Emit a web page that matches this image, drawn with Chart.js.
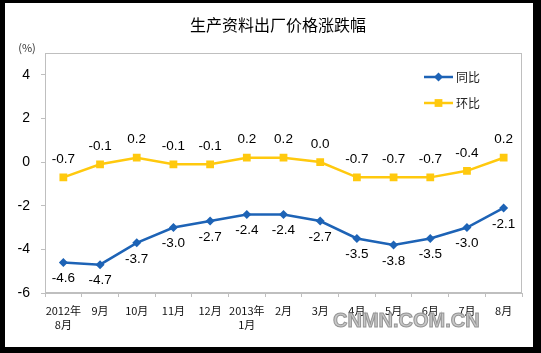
<!DOCTYPE html>
<html><head><meta charset="utf-8">
<script src="https://cdn.jsdelivr.net/npm/chart.js@4"></script>
<style>html,body{margin:0;padding:0;background:#000}canvas{display:block}</style>
</head><body>
<canvas id="c" width="541" height="353"></canvas>
<script>
const categories = [["2012年","8月"],"9月","10月","11月","12月",["2013年","1月"],"2月","3月","4月","5月","6月","7月","8月"];
const yoyValues = [-4.6,-4.7,-3.7,-3.0,-2.7,-2.4,-2.4,-2.7,-3.5,-3.8,-3.5,-3.0,-2.1];
const momValues = [-0.7,-0.1,0.2,-0.1,-0.1,0.2,0.2,0.0,-0.7,-0.7,-0.7,-0.4,0.2];
const yTicks = [-6,-4,-2,0,2,4];
const seriesNames = ["同比","环比"];
const chartTitle = "生产资料出厂价格涨跌幅";
const unitLabel = "(%)";
const watermark = "CNMN.COM.CN";

const BLUE = '#1D63B6', YELLOW = '#FFC90E', GRID = '#BFBFBF';
const NUM_FONT = '"Liberation Sans", Arial, sans-serif';
const CJK_FONT = '"Noto Sans CJK SC", sans-serif';

const bgPlugin = {
  id: 'bg',
  beforeDraw(chart) {
    const ctx = chart.ctx;
    ctx.save();
    ctx.fillStyle = '#000';
    ctx.fillRect(0, 0, chart.width, chart.height);
    ctx.fillStyle = '#fff';
    ctx.fillRect(5, 3, 528, 344);
    ctx.restore();
  },
  beforeDatasetsDraw(chart) {
    const a = chart.chartArea, ctx = chart.ctx;
    ctx.save();
    ctx.strokeStyle = GRID;
    ctx.lineWidth = 1;
    ctx.strokeRect(Math.round(a.left) + 0.5, Math.round(a.top) + 0.5, Math.round(a.right - a.left) - 1, Math.round(a.bottom - a.top) - 1);
    ctx.restore();
  }
};

function drawMarker(ctx, style, x, y, r, color) {
  ctx.fillStyle = color;
  ctx.beginPath();
  if (style === 'rectRot') {
    ctx.moveTo(x, y - r); ctx.lineTo(x + r, y); ctx.lineTo(x, y + r); ctx.lineTo(x - r, y);
    ctx.closePath();
  } else {
    const s = r * Math.SQRT1_2;
    ctx.rect(x - s, y - s, 2 * s, 2 * s);
  }
  ctx.fill();
}

const decorPlugin = {
  id: 'decor',
  afterDatasetsDraw(chart) {
    const ctx = chart.ctx;
    ctx.save();
    ctx.font = '13.5px ' + NUM_FONT;
    ctx.fillStyle = '#000';
    ctx.textAlign = 'center';
    ctx.textBaseline = 'middle';
    chart.data.datasets.forEach((ds, di) => {
      const meta = chart.getDatasetMeta(di);
      const off = di === 0 ? 16 : -18;
      meta.data.forEach((pt, i) => {
        ctx.fillText(ds.data[i].toFixed(1), pt.x, pt.y + off);
      });
    });
    ctx.restore();
  },
  afterDraw(chart) {
    const ctx = chart.ctx, a = chart.chartArea;
    ctx.save();
    // title
    ctx.fillStyle = '#000';
    ctx.font = '16px ' + CJK_FONT;
    ctx.textAlign = 'center';
    ctx.textBaseline = 'middle';
    ctx.fillText(chartTitle, 278, 25);
    // unit
    ctx.font = '11px ' + CJK_FONT;
    ctx.fillStyle = '#333';
    ctx.fillText(unitLabel, 27, 48);
    // legend
    const lx = a.right - 98;
    chart.data.datasets.forEach((ds, di) => {
      const y = a.top + 24 + di * 26;
      ctx.strokeStyle = ds.borderColor;
      ctx.lineWidth = 2.5;
      ctx.beginPath(); ctx.moveTo(lx, y); ctx.lineTo(lx + 29, y); ctx.stroke();
      drawMarker(ctx, ds.pointStyle, lx + 14.5, y, ds.pointRadius, ds.pointBackgroundColor);
      ctx.fillStyle = '#222';
      ctx.font = '12px ' + CJK_FONT;
      ctx.textAlign = 'left';
      ctx.fillText(ds.label, lx + 32, y);
    });
    // watermark
    ctx.font = 'bold 20px ' + NUM_FONT;
    ctx.textAlign = 'left';
    ctx.textBaseline = 'middle';
    ctx.lineWidth = 1;
    ctx.strokeStyle = 'rgba(140,140,140,0.9)';
    ctx.fillStyle = 'rgba(190,190,190,0.85)';
    ctx.fillText(watermark, 333, 321);
    ctx.strokeText(watermark, 333, 321);
    ctx.restore();
  }
};

new Chart(document.getElementById('c'), {
  type: 'line',
  data: {
    labels: categories,
    datasets: [
      { label: seriesNames[0], data: yoyValues, borderColor: BLUE, backgroundColor: BLUE,
        pointBackgroundColor: BLUE, pointBorderColor: BLUE, pointStyle: 'rectRot', pointRadius: 4.5,
        pointBorderWidth: 0, borderWidth: 2.5, tension: 0, fill: false },
      { label: seriesNames[1], data: momValues, borderColor: YELLOW, backgroundColor: YELLOW,
        pointBackgroundColor: YELLOW, pointBorderColor: YELLOW, pointStyle: 'rect', pointRadius: 5.5,
        pointBorderWidth: 0, borderWidth: 2.5, tension: 0, fill: false }
    ]
  },
  options: {
    responsive: false,
    animation: false,
    devicePixelRatio: 1,
    layout: { padding: { top: 53, right: 19, left: 0, bottom: 0 } },
    plugins: { legend: { display: false }, title: { display: false }, tooltip: { enabled: false } },
    scales: {
      x: {
        type: 'category',
        offset: true,
        grid: { offset: true, drawOnChartArea: false, drawTicks: true, tickLength: 4, color: GRID },
        border: { color: GRID },
        ticks: { font: { family: CJK_FONT, size: 11, lineHeight: 1.27 }, color: '#111', padding: 7, maxRotation: 0, autoSkip: false },
        afterFit(s) { s.height = 60; }
      },
      y: {
        min: -6, max: 5,
        grid: { drawOnChartArea: false, drawTicks: true, tickLength: 4, color: GRID },
        border: { color: GRID },
        ticks: { font: { family: NUM_FONT, size: 14 }, color: '#000', padding: 11 },
        afterBuildTicks(s) { s.ticks = yTicks.map(v => ({ value: v })); },
        afterFit(s) { s.width = 45; }
      }
    }
  },
  plugins: [bgPlugin, decorPlugin]
});
</script>
</body></html>
